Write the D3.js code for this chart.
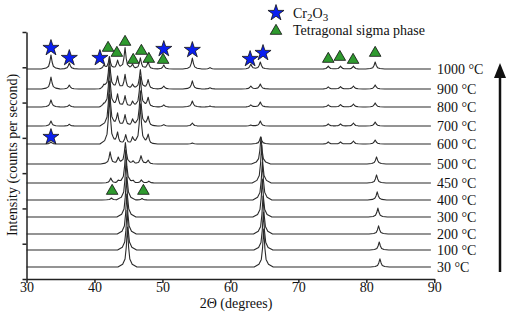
<!DOCTYPE html>
<html>
<head>
<meta charset="utf-8">
<script src="https://cdn.jsdelivr.net/npm/d3@7"></script>
<style>
  body { margin: 0; background: #fff; }
  svg, svg text { font-family: "Liberation Serif", "Times New Roman", Times, "DejaVu Serif", serif !important; }
  text { fill: #111; }
</style>
</head>
<body>
<div id="chart"></div>
<script>
// Temperatures (bottom to top) and trace offsets (counts)
var temps = ["30 °C", "100 °C", "200 °C", "300 °C", "400 °C", "450 °C", "500 °C",
             "600 °C", "700 °C", "800 °C", "900 °C", "1000 °C"];
var baselines = [340, 820, 1275, 1755, 2240, 2720, 3260, 3825, 4335, 4875, 5385, 5950];

// Peaks: [2Theta, height in counts]
var peaks30   = [[44.85, 1130], [64.9, 1075], [82.0, 230]];
var peaks100  = [[44.8, 1130], [64.85, 1075], [81.9, 230]];
var peaks200  = [[44.75, 1130], [64.8, 1075], [81.8, 230]];
var peaks300  = [[44.7, 1130], [64.7, 1075], [81.7, 255]];
var peaks400  = [[42.5, 55], [44.65, 1130], [47.0, 40], [64.7, 1075], [81.6, 230]];
var peaks450  = [[42.4, 140], [43.5, 50], [44.6, 935], [45.7, 50], [46.9, 85], [48.0, 50], [64.6, 1075], [81.5, 230]];
var peaks500  = [[42.3, 340], [43.5, 170], [44.55, 600], [45.7, 70], [46.85, 230], [47.9, 100], [64.5, 765], [81.5, 200]];
var peaks600  = [[33.6, 60], [42.2, 1400], [43.4, 310], [44.6, 255], [45.6, 170], [46.75, 1130], [47.9, 255],
                 [54.4, 30], [64.45, 200], [74.4, 60], [76.2, 60], [78.1, 85], [81.3, 115]];
var peaks700  = [[33.6, 140], [36.3, 50], [42.2, 1270], [43.4, 340], [44.5, 310], [45.6, 170], [46.75, 990], [47.9, 255],
                 [50.2, 40], [54.4, 85], [63.0, 30], [64.4, 140], [74.4, 60], [76.2, 60], [78.1, 85], [81.3, 115]];
var peaks800  = [[33.6, 200], [36.3, 60], [41.4, 50], [42.2, 1130], [43.4, 340], [44.5, 310], [45.6, 140], [46.75, 850],
                 [47.9, 255], [50.2, 60], [54.4, 170], [57.0, 30], [63.0, 60], [64.4, 140], [74.4, 60], [76.2, 70], [78.1, 85], [81.3, 115]];
var peaks900  = [[33.6, 340], [36.3, 110], [41.4, 85], [42.2, 900], [43.4, 340], [44.5, 400], [45.6, 115], [46.75, 540],
                 [47.9, 255], [50.2, 85], [54.4, 230], [57.0, 35], [63.0, 85], [64.4, 140], [74.4, 60], [76.2, 70], [78.1, 85], [81.3, 115]];
var peaks1000 = [[33.6, 400], [36.3, 170], [41.4, 100], [42.2, 340], [43.4, 230], [44.5, 600], [45.6, 115], [46.75, 310],
                 [47.9, 200], [50.2, 115], [54.4, 310], [57.0, 40], [63.0, 140], [64.4, 200], [74.4, 85], [76.2, 85], [78.1, 85], [81.3, 200]];
var peakLists = [peaks30, peaks100, peaks200, peaks300, peaks400, peaks450, peaks500,
                 peaks600, peaks700, peaks800, peaks900, peaks1000];

// Phase markers: [2Theta, counts]
var cr2o3Marks = [[33.6, 6547], [36.3, 6263], [40.8, 6263], [50.2, 6518], [54.4, 6490], [62.9, 6235], [64.8, 6405], [33.6, 4024]];
var sigmaMarks = [[42.0, 6547], [43.3, 6405], [44.5, 6717], [45.7, 6206], [46.9, 6462], [48.0, 6235], [50.1, 6206],
                  [74.4, 6235], [76.1, 6291], [78.05, 6206], [81.3, 6405], [42.6, 2494], [47.2, 2494]];

var xTicks = [30, 40, 50, 60, 70, 80, 90];

// Peak profile shape (degrees offset, fraction of height)
var profDx = [-1.4, -0.7, -0.35, -0.17, 0, 0.17, 0.35, 0.7, 1.4];
var profFr = [0, 0.07, 0.2, 0.5, 1, 0.5, 0.2, 0.07, 0];

var width = 510, height = 316;
var margin = {top: 32, right: 76, bottom: 37, left: 26.5};

var svg = d3.select("#chart").append("svg")
    .attr("width", width)
    .attr("height", height)
    .style("font-family", "'Liberation Serif', 'Times New Roman', serif");

var x = d3.scaleLinear().domain([30, 90]).range([margin.left, 434.3]);
var y = d3.scaleLinear().domain([0, 7000]).range([height - margin.bottom, margin.top]);

var prof = d3.scaleLinear().domain(profDx).range(profFr).clamp(true);

function traceData(base, list) {
    var xs = [30, 89.5];
    list.forEach(function(p) {
        profDx.forEach(function(d) {
            var v = p[0] + d;
            if (v > 30 && v < 89.5) xs.push(v);
        });
    });
    xs.sort(d3.ascending);
    return xs.map(function(v) {
        var s = base;
        list.forEach(function(p) { s += p[1] * prof(v - p[0]); });
        return [v, s];
    });
}

var line = d3.line()
    .x(function(d) { return x(d[0]); })
    .y(function(d) { return y(d[1]); });

// Traces
svg.append("g").selectAll("path")
    .data(temps)
    .enter().append("path")
    .attr("d", function(d, i) { return line(traceData(baselines[i], peakLists[i])); })
    .attr("fill", "none")
    .attr("stroke", "#2b2b2b")
    .attr("stroke-width", 1.1)
    .attr("stroke-linejoin", "round");

// Temperature labels
svg.append("g").selectAll("text")
    .data(temps)
    .enter().append("text")
    .attr("x", 437)
    .attr("y", function(d, i) { return y(baselines[i]) + 5; })
    .style("font-size", "14px")
    .text(function(d) { return d; });

// Axes
var xAxis = svg.append("g")
    .attr("transform", "translate(0," + y(0) + ")")
    .call(d3.axisBottom(x).tickValues(xTicks).tickSize(4).tickSizeOuter(0));
xAxis.attr("font-family", null).attr("font-size", null);
xAxis.selectAll("text").attr("y", 3).style("font-size", "14px").attr("fill", "#111");

var yAxis = svg.append("g")
    .attr("transform", "translate(" + margin.left + ",0)")
    .call(d3.axisLeft(y).tickValues(d3.range(0, 7001, 1000)).tickFormat("").tickSize(4).tickSizeOuter(0));

svg.selectAll(".domain, .tick line").attr("stroke", "#222").attr("stroke-width", 1.5);

svg.append("text")
    .attr("x", 236).attr("y", 308)
    .attr("text-anchor", "middle")
    .style("font-size", "14px")
    .text("2Θ (degrees)");

svg.append("text")
    .attr("transform", "translate(17,155) rotate(-90)")
    .attr("text-anchor", "middle")
    .style("font-size", "14px")
    .text("Intensity (counts per second)");

// Markers
var star = d3.symbol().type(d3.symbolStar).size(80);
var tri = d3.symbol().type(d3.symbolTriangle).size(58);

svg.append("g").selectAll("path")
    .data(cr2o3Marks)
    .enter().append("path")
    .attr("d", star)
    .attr("transform", function(d) { return "translate(" + x(d[0]) + "," + y(d[1]) + ")"; })
    .attr("fill", "#0a1ff0")
    .attr("stroke", "#111")
    .attr("stroke-width", 0.8);

svg.append("g").selectAll("path")
    .data(sigmaMarks)
    .enter().append("path")
    .attr("d", tri)
    .attr("transform", function(d) { return "translate(" + x(d[0]) + "," + y(d[1]) + ")"; })
    .attr("fill", "#2f9a2f")
    .attr("stroke", "#111")
    .attr("stroke-width", 0.8);

// Legend
svg.append("path").attr("d", star).attr("transform", "translate(276,13)")
    .attr("fill", "#0a1ff0").attr("stroke", "#111").attr("stroke-width", 0.8);
svg.append("path").attr("d", tri).attr("transform", "translate(276,31)")
    .attr("fill", "#2f9a2f").attr("stroke", "#111").attr("stroke-width", 0.8);

var cr = svg.append("text").attr("x", 293).attr("y", 18).style("font-size", "14px");
cr.append("tspan").text("Cr");
cr.append("tspan").attr("dy", 3).style("font-size", "11px").text("2");
cr.append("tspan").attr("dy", -3).text("O");
cr.append("tspan").attr("dy", 3).style("font-size", "11px").text("3");

svg.append("text").attr("x", 293).attr("y", 35).style("font-size", "14px")
    .text("Tetragonal sigma phase");

// Arrow
svg.append("line")
    .attr("x1", 500).attr("x2", 500).attr("y1", 272).attr("y2", 76)
    .attr("stroke", "#111").attr("stroke-width", 2.5);
svg.append("path")
    .attr("d", "M494,78 L506,78 L500,63 Z")
    .attr("fill", "#111");
</script>
</body>
</html>
